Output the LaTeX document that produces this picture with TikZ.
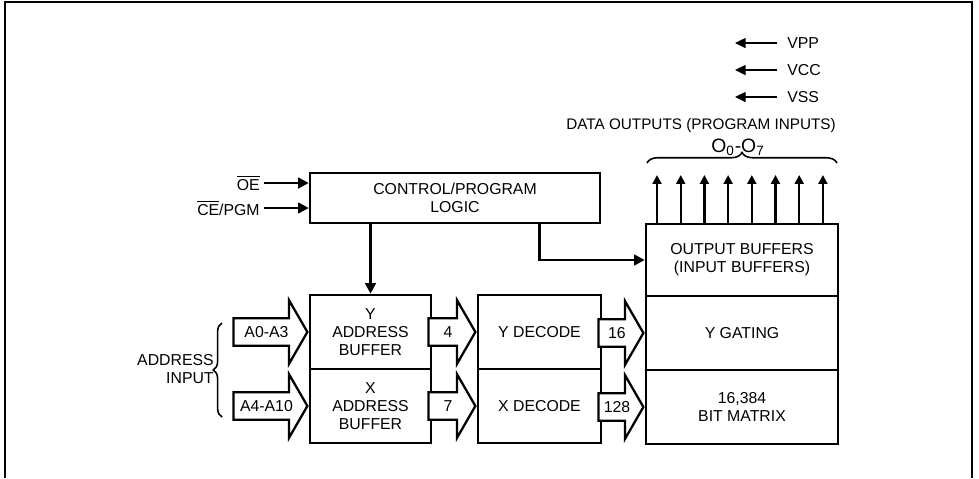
\documentclass[tikz,border=0pt]{standalone}
\usepackage{fontspec}
\setmainfont{Liberation Sans}
\usetikzlibrary{arrows.meta, positioning, calc, shapes.arrows, decorations.pathreplacing}
\tikzset{
  blk/.style={rectangle, draw, line width=1.5pt, align=center,
              font=\fontsize{9}{10.2}\selectfont, inner sep=0pt},
  lbl/.style={font=\fontsize{9}{10.2}\selectfont, inner sep=0pt},
  arr/.style={-{Triangle[length=6pt, width=6pt]}, line width=1.5pt},
  uarr/.style={-{Triangle[length=5pt, width=5pt]}, line width=1.3pt},
  parr/.style={-{Triangle[length=6pt, width=5.5pt]}, line width=1.2pt},
  fat/.style={single arrow, draw, fill=white, line width=1.3pt,
              single arrow head extend=0.36cm, single arrow tip angle=120,
              minimum height=#1,
              text height=6.5pt, text depth=0pt, inner ysep=3.9pt, inner xsep=0.5pt,
              anchor=tip, font=\fontsize{9}{10.2}\selectfont},
  brc/.style={decorate, decoration={brace, amplitude=#1}, line width=0.9pt},
}
\begin{document}
\begin{tikzpicture}[x=0.02cm, y=-0.02cm]
  \useasboundingbox (0,0) rectangle (979,478);
  \draw[line width=1.2pt] (5,478) -- (5,2) -- (972,2) -- (972,478);

  % control logic
  \node[blk, minimum width=5.8cm, minimum height=1cm] (ctl) at (455,198) {CONTROL/PROGRAM\\LOGIC};
  \node[lbl, anchor=east] (oe) at (260,183) {$\overline{\mbox{OE}}$};
  \node[lbl, anchor=east] (ce) at (260,208) {$\overline{\mbox{CE}}$/PGM};
  \draw[arr] ([xshift=2pt]oe.east) -- (oe.east -| ctl.west);
  \draw[arr] ([xshift=2pt]ce.east) -- (ce.east -| ctl.west);

  % address path
  \node[blk, minimum width=2.42cm, minimum height=1.48cm] (yab) at (370.5,332) {Y\\ADDRESS\\BUFFER};
  \node[blk, minimum width=2.42cm, minimum height=1.48cm] (xab) at (370.5,406) {X\\ADDRESS\\BUFFER};
  \node[blk, minimum width=2.46cm, minimum height=1.48cm] (ydec) at (539.5,332) {Y DECODE};
  \node[blk, minimum width=2.46cm, minimum height=1.48cm] (xdec) at (539.5,406) {X DECODE};

  % memory column
  \node[blk, minimum width=3.84cm, minimum height=1.44cm] (obuf) at (742,260) {OUTPUT BUFFERS\\(INPUT BUFFERS)};
  \node[blk, minimum width=3.84cm, minimum height=1.48cm] (ygat) at (742,333) {Y GATING};
  \node[blk, minimum width=3.84cm, minimum height=1.48cm] (bmat) at (742,407) {16,384\\BIT MATRIX};

  \node[fat=1.48cm] (a03) at (yab.west) {A0-A3};
  \node[fat=1.48cm] (a410) at (xab.west) {A4-A10};
  \node[fat=0.94cm] (n4) at (ydec.west) {4};
  \node[fat=0.94cm] (n7) at (xdec.west) {7};
  \node[fat=0.9cm] (n16) at (ygat.west) {16};
  \node[fat=0.9cm] (n128) at (bmat.west) {128};

  \node[lbl, align=right, anchor=east] (addr) at (214,369) {ADDRESS\\INPUT};
  \draw[brc=5pt] (222,417) -- (222,323);

  \draw[arr] (ctl.south -| yab.north) -- (yab.north);
  \draw[arr] (ctl.south -| ydec.north) |- (obuf.west);

  % data outputs
  \foreach \i in {0,...,7} {
    \coordinate (o\i) at (657+23.7*\i,175);
    \draw[uarr] (obuf.north -| o\i) -- (o\i);
  }
  \draw[brc=6pt] (647,163) -- (837,163);
  \node[lbl, font=\fontsize{8.7}{10}\selectfont] (dout) at (701,126) {DATA OUTPUTS (PROGRAM INPUTS)};
  \node[lbl, font=\fontsize{11}{12}\selectfont] (onum) at (738,147) {O\textsubscript{0}-O\textsubscript{7}};

  % supplies
  \foreach \n/\y in {VPP/43, VCC/70, VSS/97} {
    \node[lbl, anchor=west] (\n) at (787,\y) {\n};
    \coordinate (\n tip) at (735,\y);
    \draw[parr] ([xshift=-0.2cm]\n.west) -- (\n tip);
  }
\end{tikzpicture}
\end{document}
